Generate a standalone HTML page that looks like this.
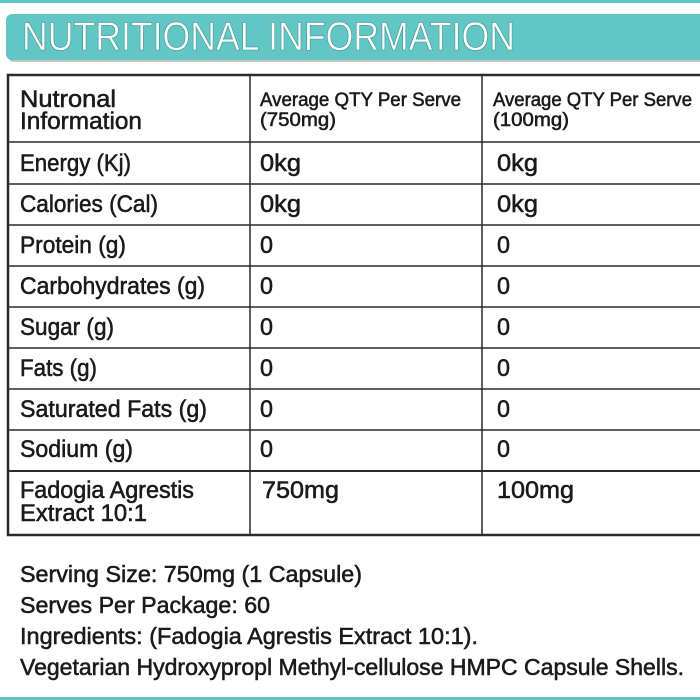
<!DOCTYPE html>
<html><head><style>
html,body{margin:0;padding:0;background:#fff;}
svg{display:block}
text{font-family:"Liberation Sans",sans-serif;fill:#1a1a1a;stroke:#1a1a1a;stroke-width:0.55;}
</style></head><body>
<svg width="700" height="700" viewBox="0 0 700 700" xmlns="http://www.w3.org/2000/svg">
<rect x="0" y="0" width="700" height="3" fill="#5cc4c2"/>
<rect x="0" y="697" width="700" height="3" fill="#5cc4c2"/>
<rect x="8" y="16" width="700" height="46" rx="6" fill="#8a8a8a" opacity="0.5"/>
<rect x="6" y="14" width="700" height="46" rx="6" fill="#62c6c4"/>
<text x="22" y="50" textLength="493" lengthAdjust="spacingAndGlyphs" font-size="40" style="fill:#fff;stroke:#3a8f8d;stroke-width:0.6">NUTRITIONAL INFORMATION</text>
<g stroke="#2a2a2a" fill="none">
<rect x="8" y="75" width="700" height="460" stroke-width="2.5"/>
<line x1="250" y1="75" x2="250" y2="535" stroke-width="1.5"/>
<line x1="482" y1="75" x2="482" y2="535" stroke-width="1.5"/>
<line x1="8" y1="142" x2="700" y2="142" stroke-width="1.5"/>
<line x1="8" y1="184" x2="700" y2="184" stroke-width="1.5"/>
<line x1="8" y1="225" x2="700" y2="225" stroke-width="1.5"/>
<line x1="8" y1="266" x2="700" y2="266" stroke-width="1.5"/>
<line x1="8" y1="307" x2="700" y2="307" stroke-width="1.5"/>
<line x1="8" y1="348" x2="700" y2="348" stroke-width="1.5"/>
<line x1="8" y1="389" x2="700" y2="389" stroke-width="1.5"/>
<line x1="8" y1="430" x2="700" y2="430" stroke-width="1.5"/>
<line x1="8" y1="471" x2="700" y2="471" stroke-width="2"/>
</g>
<g font-size="24">
<text x="20" y="107" textLength="96" lengthAdjust="spacingAndGlyphs">Nutronal</text>
<text x="20" y="129" textLength="122" lengthAdjust="spacingAndGlyphs">Information</text>
<text x="20" y="171" textLength="111" lengthAdjust="spacingAndGlyphs">Energy (Kj)</text>
<text x="20" y="212" textLength="138" lengthAdjust="spacingAndGlyphs">Calories (Cal)</text>
<text x="20" y="253" textLength="106" lengthAdjust="spacingAndGlyphs">Protein (g)</text>
<text x="20" y="294" textLength="185" lengthAdjust="spacingAndGlyphs">Carbohydrates (g)</text>
<text x="20" y="335" textLength="94" lengthAdjust="spacingAndGlyphs">Sugar (g)</text>
<text x="20" y="376" textLength="77" lengthAdjust="spacingAndGlyphs">Fats (g)</text>
<text x="20" y="417" textLength="187" lengthAdjust="spacingAndGlyphs">Saturated Fats (g)</text>
<text x="20" y="457" textLength="113" lengthAdjust="spacingAndGlyphs">Sodium (g)</text>
<text x="20" y="498" textLength="174" lengthAdjust="spacingAndGlyphs">Fadogia Agrestis</text>
<text x="20" y="521" textLength="127" lengthAdjust="spacingAndGlyphs">Extract 10:1</text>
<text x="260" y="171" textLength="41" lengthAdjust="spacingAndGlyphs">0kg</text>
<text x="260" y="212" textLength="41" lengthAdjust="spacingAndGlyphs">0kg</text>
<text x="497" y="171" textLength="41" lengthAdjust="spacingAndGlyphs">0kg</text>
<text x="497" y="212" textLength="41" lengthAdjust="spacingAndGlyphs">0kg</text>
<text x="260" y="253" textLength="13" lengthAdjust="spacingAndGlyphs">0</text><text x="497" y="253" textLength="13" lengthAdjust="spacingAndGlyphs">0</text>
<text x="260" y="294" textLength="13" lengthAdjust="spacingAndGlyphs">0</text><text x="497" y="294" textLength="13" lengthAdjust="spacingAndGlyphs">0</text>
<text x="260" y="335" textLength="13" lengthAdjust="spacingAndGlyphs">0</text><text x="497" y="335" textLength="13" lengthAdjust="spacingAndGlyphs">0</text>
<text x="260" y="376" textLength="13" lengthAdjust="spacingAndGlyphs">0</text><text x="497" y="376" textLength="13" lengthAdjust="spacingAndGlyphs">0</text>
<text x="260" y="417" textLength="13" lengthAdjust="spacingAndGlyphs">0</text><text x="497" y="417" textLength="13" lengthAdjust="spacingAndGlyphs">0</text>
<text x="260" y="457" textLength="13" lengthAdjust="spacingAndGlyphs">0</text><text x="497" y="457" textLength="13" lengthAdjust="spacingAndGlyphs">0</text>
<text x="262" y="498" textLength="77" lengthAdjust="spacingAndGlyphs">750mg</text>
<text x="497" y="498" textLength="77" lengthAdjust="spacingAndGlyphs">100mg</text>
</g>
<g font-size="19" style="stroke-width:0.4">
<text x="260" y="106" textLength="201" lengthAdjust="spacingAndGlyphs">Average QTY Per Serve</text>
<text x="260" y="126" textLength="76" lengthAdjust="spacingAndGlyphs">(750mg)</text>
<text x="493" y="106" textLength="199" lengthAdjust="spacingAndGlyphs">Average QTY Per Serve</text>
<text x="493" y="126" textLength="76" lengthAdjust="spacingAndGlyphs">(100mg)</text>
</g>
<g font-size="23">
<text x="20" y="582" textLength="342" lengthAdjust="spacingAndGlyphs">Serving Size: 750mg (1 Capsule)</text>
<text x="20" y="613" textLength="250" lengthAdjust="spacingAndGlyphs">Serves Per Package: 60</text>
<text x="20" y="644" textLength="458" lengthAdjust="spacingAndGlyphs">Ingredients: (Fadogia Agrestis Extract 10:1).</text>
<text x="20" y="675" textLength="664" lengthAdjust="spacingAndGlyphs">Vegetarian Hydroxypropl Methyl-cellulose HMPC Capsule Shells.</text>
</g>
</svg>
</body></html>
